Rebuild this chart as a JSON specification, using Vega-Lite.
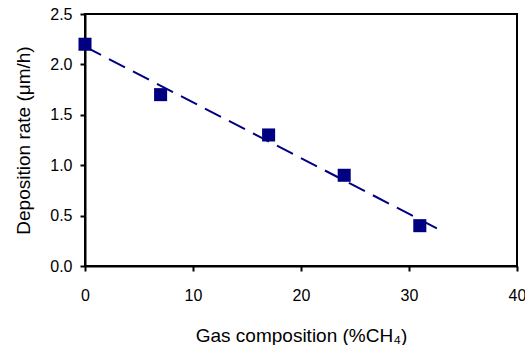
{
  "$schema": "https://vega.github.io/schema/vega-lite/v6.json",
  "width": 432,
  "height": 252,
  "autosize": {"type": "none"},
  "padding": {"left": 85, "top": 14, "right": 8, "bottom": 79},
  "background": "white",
  "config": {
    "view": {"stroke": "black", "strokeWidth": 2},
    "font": "Liberation Sans",
    "axis": {
      "grid": false,
      "domainColor": "black",
      "domainWidth": 2,
      "tickColor": "black",
      "tickWidth": 2,
      "tickSize": 5,
      "labelColor": "black",
      "labelFont": "Liberation Sans",
      "labelFontSize": 16,
      "titleColor": "black",
      "titleFont": "Liberation Sans",
      "titleFontSize": 19,
      "titleFontWeight": "normal"
    }
  },
  "datasets": {
    "points": [
      {"x": 0, "y": 2.2},
      {"x": 7, "y": 1.7},
      {"x": 17, "y": 1.3},
      {"x": 24, "y": 0.9},
      {"x": 31, "y": 0.4}
    ],
    "trend": [
      {"x": 0, "y": 2.176},
      {"x": 33.2, "y": 0.34}
    ]
  },
  "layer": [
    {
      "data": {"name": "points"},
      "mark": {"type": "point", "shape": "square", "filled": true, "size": 170, "color": "#000080", "opacity": 1},
      "encoding": {
        "x": {
          "field": "x", "type": "quantitative",
          "scale": {"domain": [0, 40], "nice": false, "zero": false},
          "axis": {"values": [0, 10, 20, 30, 40], "title": "Gas composition (%CH₄)", "labelPadding": 16, "titlePadding": 23, "labelFlush": false}
        },
        "y": {
          "field": "y", "type": "quantitative",
          "scale": {"domain": [0, 2.5], "nice": false},
          "axis": {"values": [0, 0.5, 1, 1.5, 2, 2.5], "format": ".1f", "title": "Deposition rate (μm/h)", "labelPadding": 8, "titlePadding": 16, "labelFlush": false}
        }
      }
    },
    {
      "data": {"name": "trend"},
      "mark": {"type": "line", "color": "#000080", "strokeWidth": 2, "strokeDash": [18, 9]},
      "encoding": {
        "x": {"field": "x", "type": "quantitative"},
        "y": {"field": "y", "type": "quantitative"}
      }
    }
  ]
}
